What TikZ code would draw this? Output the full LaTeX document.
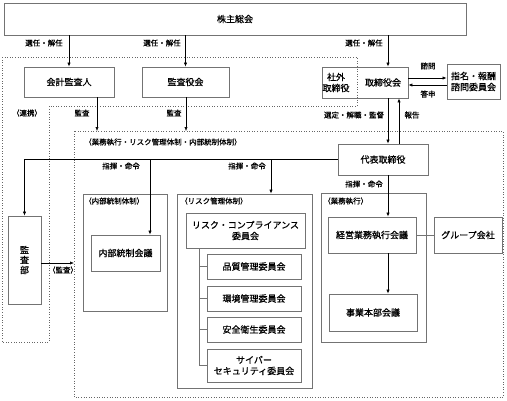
\documentclass[tikz,border=0pt]{standalone}
\usepackage{fontspec}
\setmainfont{Noto Sans CJK JP}[FakeBold=0.8]
\usetikzlibrary{arrows.meta}
\begin{document}
\begin{tikzpicture}[x=1pt,y=-1pt,
  box/.style={draw=black!55, line width=0.7pt, align=center, inner sep=0pt, font={\fontsize{9}{11}\selectfont}},
  txt/.style={align=center, inner sep=0pt, font={\fontsize{9}{11}\selectfont}},
  lbl/.style={font=\fontsize{7.5}{9}\selectfont, inner sep=0pt},
  arr/.style={-{Latex[length=4pt,width=3.2pt]}, line width=0.6pt},
  ln/.style={line width=0.6pt},
  tree/.style={draw=black!55, line width=0.7pt},
  dotline/.style={draw=black!60, dotted, line width=0.6pt}]
\useasboundingbox (0,0) rectangle (507,400);

% dotted groups
\draw[dotline] (2,57) -- (357,57) -- (357,106) -- (49,106) -- (49,342) -- (2,342) -- cycle;
\draw[dotline] (74,131) rectangle (503,397);

% top boxes
\node[box, minimum width=462pt, minimum height=32pt] (sokai) at (235,19) {株主総会};
\node[box, minimum width=90pt, minimum height=30pt] (kaikei) at (69,82) {会計監査人};
\node[box, minimum width=87pt, minimum height=30pt] (kansayaku) at (185.5,82) {監査役会};
\node[box, minimum width=86pt, minimum height=31pt] (tori) at (365,82.5) {};
\node[txt] (shagai) at (336,82.5) {社外\\取締役};
\node[txt] (torikai) at (383,82.5) {取締役会};
\node[box, minimum width=53pt, minimum height=35pt] (shimei) at (473.5,81.5) {指名・報酬\\諮問委員会};
\node[box, minimum width=90pt, minimum height=31pt] (daihyo) at (383,159.5) {代表取締役};
\node[box, minimum width=33pt, minimum height=88pt] (kansabu) at (24.5,260) {監\\[-1pt]査\\[-1pt]部};

% frames
\node[box, minimum width=84pt, minimum height=117pt] (nframe) at (125,252.5) {};
\node[box, minimum width=135pt, minimum height=194pt] (rframe) at (244.5,291) {};
\node[box, minimum width=105pt, minimum height=149pt] (gframe) at (373.5,267.5) {};

\node[lbl, anchor=west] (lgroup) at (84,142) {（業務執行・リスク管理体制・内部統制体制）};
\node[lbl, anchor=west] (lnaibu) at (84,201) {（内部統制体制）};
\node[lbl, anchor=west] (lrisk) at (180,201) {（リスク管理体制）};
\node[lbl, anchor=west] (lgyomu) at (323,201) {（業務執行）};

% inner boxes
\node[box, minimum width=69pt, minimum height=36pt] (naikaigi) at (125.5,253) {内部統制会議};
\node[box, minimum width=119pt, minimum height=35pt] (riskcomp) at (245.5,230.5) {リスク・コンプライアンス\\委員会};
\node[box, minimum width=94pt, minimum height=25pt] (hinshitsu) at (254,266.5) {品質管理委員会};
\node[box, minimum width=94pt, minimum height=25pt] (kankyo) at (254,298.5) {環境管理委員会};
\node[box, minimum width=94pt, minimum height=25pt] (anzen) at (254,329.5) {安全衛生委員会};
\node[box, minimum width=94pt, minimum height=33pt] (cyber) at (254,365.5) {サイバー\\セキュリティ委員会};
\node[box, minimum width=88pt, minimum height=36pt] (keiei) at (372,235) {経営業務執行会議};
\node[box, minimum width=68pt, minimum height=36pt] (group) at (468,235) {グループ会社};
\node[box, minimum width=88pt, minimum height=37pt] (jigyo) at (373,312.5) {事業本部会議};

% coordinates
\coordinate (t1) at (388,0);
\coordinate (t2) at (399,0);
\coordinate (s1) at (0,78);
\coordinate (s2) at (0,85);
\coordinate (a1) at (97,131);
\coordinate (a2) at (186,131);
\coordinate (b1) at (150,159.5);
\coordinate (b2) at (271,159.5);
\coordinate (k1) at (74,263);
\coordinate (tr) at (199,0);

% arrows from sokai
\draw[arr] (sokai.south -| kaikei.north) -- (kaikei.north);
\draw[arr] (sokai.south -| kansayaku.north) -- (kansayaku.north);
\draw[arr] (sokai.south -| t1) -- (tori.north -| t1);
\node[lbl] (l1) at (44,43) {選任・解任};
\node[lbl] (l2) at (162,43) {選任・解任};
\node[lbl] (l3) at (364,43) {選任・解任};

% audit arrows
\draw[arr] (kaikei.south -| a1) -- (a1);
\draw[arr] (kansayaku.south -| a2) -- (a2);
\node[lbl] (l4) at (82,113) {監査};
\node[lbl] (l5) at (174,113) {監査};
\node[lbl] (l6) at (27,113) {（連携）};

% tori <-> daihyo
\draw[arr] (tori.south -| t1) -- (daihyo.north -| t1);
\draw[arr] (daihyo.north -| t2) -- (tori.south -| t2);
\node[lbl] (l7) at (354,115) {選定・解職・監督};
\node[lbl] (l8) at (412,115) {報告};

% tori <-> shimei
\draw[arr] (tori.east |- s1) -- (shimei.west |- s1);
\draw[arr] (shimei.west |- s2) -- (tori.east |- s2);
\node[lbl] (l9) at (428,66) {諮問};
\node[lbl] (l10) at (428,94) {答申};

% daihyo commands
\draw[arr] (daihyo.west) -| (kansabu.north);
\draw[arr] (b1) -- (b1 |- naikaigi.north);
\draw[arr] (b2) -- (b2 |- rframe.north);
\node[lbl] (l11) at (121,166) {指揮・命令};
\node[lbl] (l12) at (247,166) {指揮・命令};
\draw[arr] (daihyo.south -| t1) -- (keiei.north -| t1);
\node[lbl] (l13) at (364,184) {指揮・命令};
\draw[arr] (keiei.south -| t1) -- (jigyo.north -| t1);
\draw[tree] (keiei.east) -- (group.west);

% kansabu -> inner group
\draw[arr] (kansabu.east |- k1) -- (k1);
\node[lbl] (l14) at (63,270) {（監査）};

% tree
\draw[tree] (riskcomp.south -| tr) -- (tr |- cyber.west);
\draw[tree] (tr |- hinshitsu.west) -- (hinshitsu.west);
\draw[tree] (tr |- kankyo.west) -- (kankyo.west);
\draw[tree] (tr |- anzen.west) -- (anzen.west);
\draw[tree] (tr |- cyber.west) -- (cyber.west);
\end{tikzpicture}
\end{document}
